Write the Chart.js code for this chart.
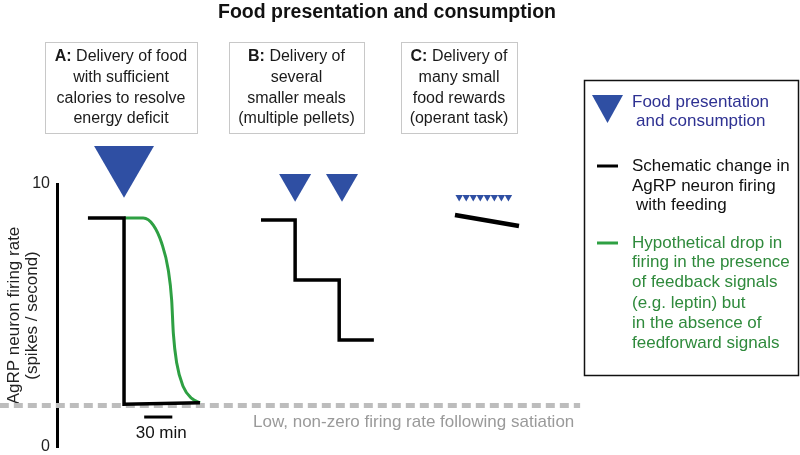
<!DOCTYPE html>
<html>
<head>
<meta charset="utf-8">
<script src="https://cdn.jsdelivr.net/npm/chart.js@4"></script>
<style>
  html, body { margin: 0; padding: 0; background: #fff; }
</style>
</head>
<body>
<canvas id="chart" width="800" height="455"></canvas>
<script>
// time in minutes, firing rate in spikes / second
const timeA = [33, 71.5, 71.5, 152.5];
const rateA = [8.71, 8.71, 1.63, 1.68];
const timeGreen = [71.5, 92, 102.7, 111.7, 118.7, 122.3, 124.1, 127.7, 134.7, 143.7, 152.5];
const rateGreen = [8.71, 8.71, 8.44, 7.75, 6.73, 5.59, 4.32, 3.19, 2.29, 1.85, 1.68];
const timeB = [217.6, 254, 254, 301, 301, 338];
const rateB = [8.63, 8.63, 6.35, 6.35, 4.07, 4.07];
const timeC = [424.5, 492.8];
const rateC = [8.82, 8.4];

// food presentation markers
const mealA = [71.5];
const mealsB = [254, 304];
const rewardsC = [429, 436.5, 444, 451.5, 459, 466.5, 474, 481.5];
const mealARate = [10.79];
const mealsBRate = [10.03, 10.03];
const rewardsCRate = [9.5, 9.5, 9.5, 9.5, 9.5, 9.5, 9.5, 9.5];

// satiation floor and 30 min scale bar
const floorTime = [-61, 558];
const floorRate = [1.58, 1.58];
const scaleBarTime = [93, 123];
const scaleBarRate = [1.14, 1.14];

const yTicks = [0, 10];

const BLUE = "#2f4fa3";
const GREEN = "#2ea043";
const FAMILY = '"Liberation Sans", Arial, sans-serif';
const font = (size, bold) => (bold ? "bold " : "") + size + "px " + FAMILY;

// zip x and y arrays into points
function pts(xs, ys) {
  return xs.map((x, i) => ({ x: x, y: ys[i] }));
}

function lineSet(xs, ys, color, width, extra) {
  return Object.assign({
    data: pts(xs, ys),
    showLine: true,
    borderColor: color,
    borderWidth: width,
    pointRadius: 0,
    fill: false,
    clip: false,
  }, extra || {});
}

function markerSet(xs, ys, r) {
  return {
    data: pts(xs, ys),
    showLine: false,
    pointStyle: "triangle",
    rotation: 180,
    pointRadius: r,
    backgroundColor: BLUE,
    borderWidth: 0,
    clip: false,
  };
}

const boxes = [
  { left: 45, right: 197, head: "A:", lines: [" Delivery of food", "with sufficient", "calories to resolve", "energy deficit"] },
  { left: 229, right: 364, head: "B:", lines: [" Delivery of", "several", "smaller meals", "(multiple pellets)"] },
  { left: 401, right: 517, head: "C:", lines: [" Delivery of", "many small", "food rewards", "(operant task)"] },
];

// title, description boxes, legend and text notes
const notes = {
  id: "notes",
  afterDraw(chart) {
    const ctx = chart.ctx;
    const xs = chart.scales.x;
    const ys = chart.scales.y;
    ctx.save();
    ctx.textBaseline = "middle";

    // title
    ctx.fillStyle = "#111";
    ctx.font = font(19.5, true);
    ctx.textAlign = "center";
    ctx.fillText("Food presentation and consumption", 387, 13);

    // boxes A, B, C
    const lineY = [57, 78, 98.5, 119];
    boxes.forEach((b) => {
      ctx.strokeStyle = "#c8c8c8";
      ctx.lineWidth = 1;
      ctx.strokeRect(b.left + 0.5, 42.5, b.right - b.left, 91);
      const cx = (b.left + b.right) / 2;
      ctx.fillStyle = "#1a1a1a";
      ctx.font = font(16, true);
      const wh = ctx.measureText(b.head).width;
      ctx.font = font(16, false);
      const wr = ctx.measureText(b.lines[0]).width;
      const x0 = cx - (wh + wr) / 2;
      ctx.textAlign = "left";
      ctx.font = font(16, true);
      ctx.fillText(b.head, x0, lineY[0]);
      ctx.font = font(16, false);
      ctx.fillText(b.lines[0], x0 + wh, lineY[0]);
      ctx.textAlign = "center";
      for (let i = 1; i < b.lines.length; i++) {
        ctx.fillText(b.lines[i], cx, lineY[i]);
      }
    });

    // scale bar label
    ctx.fillStyle = "#111";
    ctx.font = font(17, false);
    ctx.textAlign = "center";
    const barMid = (xs.getPixelForValue(scaleBarTime[0]) + xs.getPixelForValue(scaleBarTime[1])) / 2;
    ctx.fillText("30 min", barMid + 3, ys.getPixelForValue(scaleBarRate[0]) + 16);

    // floor note
    ctx.fillStyle = "#9a9a9a";
    ctx.textAlign = "left";
    ctx.fillText("Low, non-zero firing rate following satiation", 253, ys.getPixelForValue(floorRate[0]) + 17);

    // legend box
    ctx.strokeStyle = "#111";
    ctx.lineWidth = 1.5;
    ctx.strokeRect(584.5, 80.5, 214, 295);

    ctx.fillStyle = BLUE;
    ctx.beginPath();
    ctx.moveTo(592, 95);
    ctx.lineTo(623, 95);
    ctx.lineTo(607.5, 123);
    ctx.closePath();
    ctx.fill();

    ctx.font = font(17, false);
    ctx.fillStyle = "#2e3192";
    ctx.fillText("Food presentation", 632, 102);
    ctx.fillText("and consumption", 636, 121);

    ctx.lineWidth = 3;
    ctx.strokeStyle = "#000";
    ctx.beginPath();
    ctx.moveTo(597, 166);
    ctx.lineTo(618, 166);
    ctx.stroke();
    ctx.fillStyle = "#111";
    ctx.fillText("Schematic change in", 632, 166);
    ctx.fillText("AgRP neuron firing", 632, 186);
    ctx.fillText("with feeding", 636, 205);

    ctx.strokeStyle = GREEN;
    ctx.beginPath();
    ctx.moveTo(597, 243);
    ctx.lineTo(618, 243);
    ctx.stroke();
    ctx.fillStyle = "#2f8a3c";
    const greenLines = ["Hypothetical drop in", "firing in the presence", "of feedback signals", "(e.g. leptin) but", "in the absence of", "feedforward signals"];
    const greenY = [243, 262, 282, 303, 323, 343];
    greenLines.forEach((t, i) => ctx.fillText(t, 632, greenY[i]));

    ctx.restore();
  },
};

new Chart(document.getElementById("chart"), {
  type: "scatter",
  data: {
    datasets: [
      lineSet(timeA, rateA, "#000", 3.5),
      lineSet(timeB, rateB, "#000", 3.5),
      lineSet(timeC, rateC, "#000", 4.5),
      lineSet(scaleBarTime, scaleBarRate, "#000", 3),
      lineSet(timeGreen, rateGreen, GREEN, 3, { cubicInterpolationMode: "monotone" }),
      markerSet(mealA, mealARate, 34.6),
      markerSet(mealsB, mealsBRate, 18.5),
      markerSet(rewardsC, rewardsCRate, 4.3),
      lineSet(floorTime, floorRate, "#bdbdbd", 5, { borderDash: [9, 5] }),
    ],
  },
  options: {
    responsive: false,
    animation: false,
    events: [],
    layout: {
      autoPadding: false, // big markers must not shrink the plot
      padding: { top: 184, bottom: 8, left: 0, right: 218 },
    },
    plugins: {
      legend: { display: false },
      tooltip: { enabled: false },
    },
    scales: {
      x: {
        type: "linear",
        display: false,
        min: 0,
        max: 560,
      },
      y: {
        type: "linear",
        min: 0,
        max: 10,
        afterBuildTicks: (scale) => {
          scale.ticks = yTicks.map((v) => ({ value: v }));
        },
        afterFit: (scale) => {
          scale.width = 57;
          // labels may stick out of the plot, keep the padding as set above
          scale.paddingTop = 0;
          scale.paddingBottom = 0;
        },
        grid: { display: false, drawTicks: false },
        border: { display: true, color: "#000", width: 3 },
        ticks: {
          color: "#222",
          font: { family: FAMILY, size: 16 },
          padding: 7,
        },
        title: {
          display: true,
          text: ["AgRP neuron firing rate", "(spikes / second)"],
          color: "#222",
          font: { family: FAMILY, size: 17, lineHeight: 1.06 },
          padding: { top: 5, bottom: 0 },
        },
      },
    },
  },
  plugins: [notes],
});
</script>
</body>
</html>
